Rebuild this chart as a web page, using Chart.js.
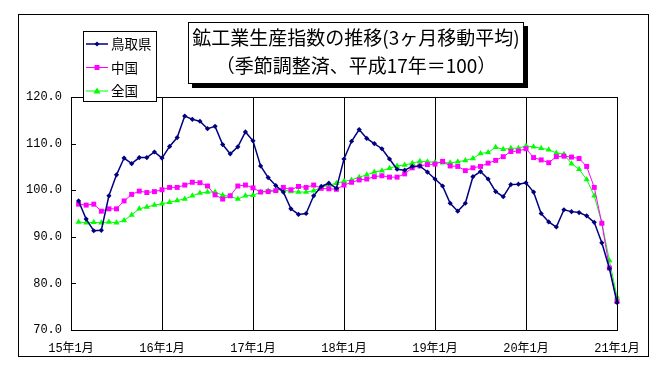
<!DOCTYPE html>
<html>
<head>
<meta charset="utf-8">
<script src="https://cdn.jsdelivr.net/npm/chart.js@4/dist/chart.umd.min.js"></script>
<style>
  body { margin: 0; background: #fff; }
  canvas { display: block; }
</style>
</head>
<body>
<canvas id="chart" width="672" height="392"></canvas>
<script>
// 3ヶ月移動平均 (季節調整済、平成17年=100), 15年2月〜21年1月
const tottori = [
  97.7, 93.8, 91.3, 91.4, 98.8, 103.3, 106.9, 105.7, 107.0, 107.0, 108.2, 106.9,
  109.4, 111.3, 115.9, 115.2, 114.8, 113.2, 113.7, 109.8, 107.8, 109.3, 112.5, 110.6,
  105.2, 102.7, 101.0, 99.6, 96.0, 94.8, 95.0, 98.8, 100.8, 101.5, 100.4, 106.7,
  110.5, 113.0, 111.1, 110.0, 108.9, 106.7, 104.5, 104.3, 105.1, 105.2, 103.9, 102.4,
  100.9, 97.2, 95.5, 97.2, 102.9, 104.0, 102.4, 99.7, 98.6, 101.2, 101.3, 101.6,
  99.6, 95.0, 93.2, 92.1, 95.8, 95.4, 95.2, 94.5, 93.1, 88.7, 83.2, 75.9
];
const chugoku = [
  97.0, 96.8, 97.0, 95.5, 96.0, 96.0, 97.7, 99.1, 99.8, 99.5, 99.7, 100.1,
  100.6, 100.6, 101.1, 101.7, 101.6, 100.9, 99.0, 98.1, 98.8, 100.9, 101.1, 100.5,
  99.6, 99.7, 99.9, 100.6, 100.1, 100.8, 100.6, 101.1, 100.4, 100.3, 100.2, 101.1,
  101.7, 102.2, 102.4, 102.9, 103.1, 102.8, 102.8, 103.5, 104.8, 105.2, 105.5, 105.6,
  106.2, 105.2, 105.1, 104.2, 104.8, 105.1, 105.8, 106.4, 107.2, 108.3, 108.4, 108.9,
  107.0, 106.5, 105.9, 107.2, 107.3, 107.1, 106.8, 105.1, 100.6, 92.9, 83.3, 76.1
];
const zenkoku = [
  93.2, 93.0, 93.1, 93.0, 93.2, 93.0, 93.5, 94.7, 96.0, 96.4, 96.8, 97.1,
  97.4, 97.8, 98.1, 98.8, 99.4, 99.6, 99.6, 98.9, 98.7, 98.1, 98.8, 98.9,
  99.6, 99.9, 100.0, 100.1, 99.7, 99.6, 99.6, 99.9, 100.6, 101.1, 101.5, 101.9,
  102.2, 102.8, 103.3, 103.9, 104.2, 104.7, 105.2, 105.4, 105.8, 106.2, 106.1, 106.0,
  105.9, 105.9, 106.1, 106.4, 106.8, 107.9, 108.1, 109.2, 108.8, 109.0, 109.0, 109.5,
  109.3, 109.0, 108.7, 108.0, 107.7, 105.7, 104.5, 102.3, 98.8, 93.0, 84.9, 77.1
];
const seriesNames = ['鳥取県', '中国', '全国'];
const titleLines = ['鉱工業生産指数の推移(3ヶ月移動平均)', '（季節調整済、平成17年＝100）'];
const yTicks = [70, 80, 90, 100, 110, 120];

// 月ラベル 15年1月〜21年1月
const months = [];
for (let y = 15; y <= 21; y++) {
  for (let m = 1; m <= 12; m++) {
    months.push(`${y}年${m}月`);
    if (y === 21) break;
  }
}

const colors = ['#000080', '#ff00ff', '#00ff00'];
const styles = ['rectRot', 'rect', 'triangle'];
const radii = [2.6, 3.5, 3.5];

function drawMarker(ctx, style, r, x, y, color) {
  ctx.save();
  ctx.fillStyle = color;
  ctx.beginPath();
  if (style === 'rect') {
    const s = r * Math.SQRT1_2;
    ctx.rect(x - s, y - s, 2 * s, 2 * s);
  } else if (style === 'rectRot') {
    ctx.moveTo(x, y - r); ctx.lineTo(x + r, y); ctx.lineTo(x, y + r); ctx.lineTo(x - r, y);
    ctx.closePath();
  } else {
    ctx.moveTo(x, y - r); ctx.lineTo(x + r, y + r * 0.7); ctx.lineTo(x - r, y + r * 0.7);
    ctx.closePath();
  }
  ctx.fill();
  ctx.restore();
}

const decor = {
  id: 'decor',
  beforeDraw(chart) {
    const ctx = chart.ctx;
    ctx.save();
    ctx.fillStyle = '#fff';
    ctx.fillRect(0, 0, chart.width, chart.height);
    ctx.restore();
  },
  afterDraw(chart) {
    const ctx = chart.ctx;
    const a = chart.chartArea;
    const ys = chart.scales.y;
    ctx.save();
    ctx.strokeStyle = '#000';
    ctx.lineWidth = 1;
    // plot frame
    ctx.strokeRect(Math.round(a.left) + 0.5, Math.round(a.top) + 0.5,
      Math.round(a.right - a.left), Math.round(a.bottom - a.top));
    // inward y ticks
    yTicks.forEach(v => {
      const py = Math.round(ys.getPixelForValue(v)) + 0.5;
      ctx.beginPath();
      ctx.moveTo(a.left, py);
      ctx.lineTo(a.left + 5, py);
      ctx.stroke();
    });
    // outer frame
    ctx.strokeRect(18.5, 14.5, 630, 342);

    // title box with shadow
    ctx.fillStyle = '#000';
    ctx.fillRect(192, 26, 336, 62);
    ctx.fillStyle = '#fff';
    ctx.fillRect(188, 22, 336, 62);
    ctx.strokeRect(188.5, 22.5, 335, 61);
    ctx.fillStyle = '#000';
    ctx.font = '19px "Noto Sans CJK JP"';
    ctx.textAlign = 'center';
    ctx.textBaseline = 'middle';
    ctx.fillText(titleLines[0], 356, 38);
    ctx.fillText(titleLines[1], 356, 66);

    // legend box
    ctx.fillStyle = '#fff';
    ctx.fillRect(83, 31, 73, 70);
    ctx.strokeRect(83.5, 31.5, 73, 70);
    ctx.font = '13.5px "Noto Sans CJK JP"';
    ctx.textAlign = 'left';
    chart.data.datasets.forEach((ds, i) => {
      const ly = 44 + i * 23.5;
      ctx.strokeStyle = ds.borderColor;
      ctx.lineWidth = ds.borderWidth;
      ctx.beginPath();
      ctx.moveTo(86, ly);
      ctx.lineTo(108, ly);
      ctx.stroke();
      drawMarker(ctx, styles[i], radii[i], 97, ly, ds.borderColor);
      ctx.fillStyle = '#000';
      ctx.fillText(ds.label, 111, ly);
    });
    ctx.restore();
  }
};

const seriesData = [tottori, chugoku, zenkoku];

new Chart(document.getElementById('chart').getContext('2d'), {
  type: 'line',
  data: {
    labels: months,
    datasets: seriesData.map((d, i) => ({
      label: seriesNames[i],
      data: [null, ...d],
      borderColor: colors[i],
      backgroundColor: colors[i],
      borderWidth: i === 0 ? 1.5 : 1,
      pointStyle: styles[i],
      pointRadius: radii[i],
      pointBorderWidth: 0,
      tension: 0,
      fill: false
    }))
  },
  options: {
    responsive: false,
    animation: false,
    layout: { padding: { left: 0, top: 97, right: 55, bottom: 0 } },
    plugins: { legend: { display: false }, tooltip: { enabled: false }, title: { display: false } },
    scales: {
      x: {
        offset: false,
        grid: { color: '#000', lineWidth: 1, drawTicks: false },
        border: { color: '#000' },
        ticks: {
          autoSkip: false,
          maxRotation: 0,
          padding: 12,
          color: '#000',
          font: { family: '"Liberation Mono", "Noto Sans CJK JP"', size: 12 },
          callback: (v, i) => months[i].endsWith('年1月') ? months[i] : null
        },
        afterFit(s) { s.height = 62; }
      },
      y: {
        min: 70,
        max: 120,
        grid: { display: false, drawTicks: false },
        border: { color: '#000' },
        ticks: {
          stepSize: 10,
          padding: 9,
          color: '#000',
          font: { family: '"Liberation Mono"', size: 12 },
          callback: v => v.toFixed(1)
        },
        afterFit(s) { s.width = 71; }
      }
    }
  },
  plugins: [decor]
});
</script>
</body>
</html>
